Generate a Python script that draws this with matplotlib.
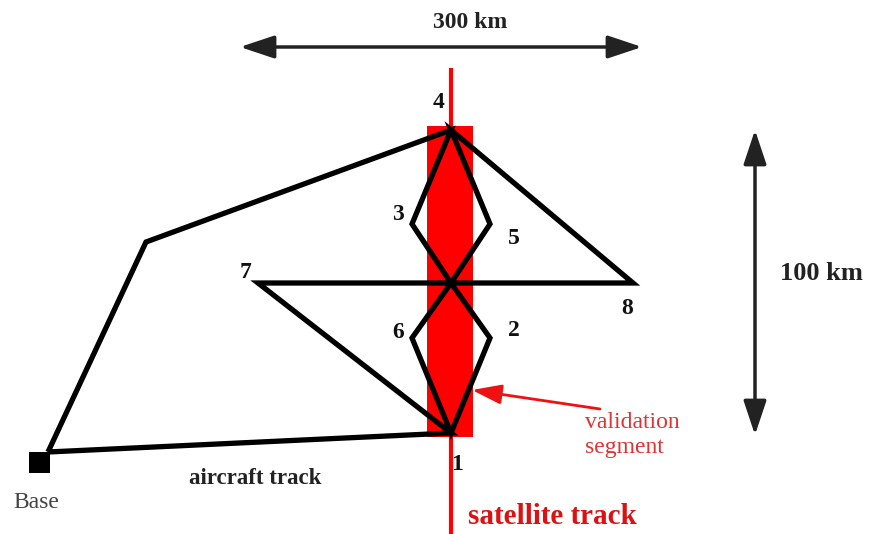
import matplotlib
matplotlib.use("Agg")
import matplotlib.pyplot as plt
from matplotlib.patches import Rectangle, FancyArrowPatch

# Waypoints (pixel-like diagram coordinates, y downward)
wp_names = ["Base", "A", "4", "3", "C", "2", "1", "6", "5", "8", "7"]
wp_x = [48, 146, 451, 412, 451, 490, 451, 412, 490, 633, 258]
wp_y = [452, 242, 130, 224, 283, 338, 433, 338, 224, 283, 283]
# flight order
route = ["Base", "A", "4", "3", "C", "2", "1", "6", "C", "5", "4", "8", "7", "1", "Base"]

# labels of waypoints
lab_text = ["4", "3", "5", "7", "8", "6", "2", "1"]
lab_x = [439, 398, 514, 246, 627, 398, 514, 457]
lab_y = [103, 215, 238, 272, 308, 332, 330, 465]

# satellite track & validation segment
sat_x = 451
sat_y = [68, 534]
seg_x = [427, 473]
seg_y = [126, 437]

fig = plt.figure(figsize=(8.69, 5.34), dpi=100)
ax = fig.add_axes([0, 0, 1, 1])
ax.set_xlim(0, 869)
ax.set_ylim(534, 0)
ax.axis("off")

serif = ["Liberation Serif", "DejaVu Serif"]

# validation segment rectangle
ax.add_patch(Rectangle((seg_x[0], seg_y[0]), seg_x[1] - seg_x[0], seg_y[1] - seg_y[0],
                       facecolor="#ff0000", edgecolor="none", zorder=1))
# satellite track
ax.plot([sat_x, sat_x], sat_y, color="#ff0000", lw=3, zorder=1, solid_capstyle="butt")

# aircraft track
pos = {n: (x, y) for n, x, y in zip(wp_names, wp_x, wp_y)}
rx = [pos[n][0] for n in route]
ry = [pos[n][1] for n in route]
ax.plot(rx, ry, color="black", lw=3.8, zorder=3, solid_joinstyle="miter", solid_capstyle="butt")

# base marker
ax.add_patch(Rectangle((29, 452), 21, 21, facecolor="black", edgecolor="none", zorder=4))

# waypoint labels
for t, x, y in zip(lab_text, lab_x, lab_y):
    ax.text(x, y, t, fontsize=17, fontweight="bold", family=serif, ha="center", va="center",
            color="#111111", zorder=5)

# scale arrows
h = FancyArrowPatch((240, 47), (642, 47), arrowstyle="<|-|>,head_length=21,head_width=7",
                    color="#222222", lw=2.5, mutation_scale=1, zorder=2, shrinkA=0, shrinkB=0)
ax.add_patch(h)
v = FancyArrowPatch((755, 130), (755, 435), arrowstyle="<|-|>,head_length=21,head_width=7",
                    color="#222222", lw=2.5, mutation_scale=1, zorder=2, shrinkA=0, shrinkB=0)
ax.add_patch(v)
ax.text(470, 22, "300 km", fontsize=17, fontweight="bold", family=serif, ha="center", va="center",
        color="#222222")
ax.text(821, 273, "100 km", fontsize=19, fontweight="bold", family=serif, ha="center", va="center",
        color="#222222")

# other text
ax.text(36, 503, "Base", fontsize=17, family=serif, ha="center", va="center", color="#444444")
ax.text(255, 479, "aircraft track", fontsize=16.5, fontweight="bold", family=serif, ha="center",
        va="center", color="#222222")
ax.text(552, 517, "satellite track", fontsize=21, fontweight="bold", family=serif, ha="center",
        va="center", color="#dd1111")
ax.text(585, 422, "validation", fontsize=17, family=serif, ha="left", va="center", color="#dd3333")
ax.text(585, 447, "segment", fontsize=17, family=serif, ha="left", va="center", color="#dd3333")

# red pointer arrow
ax.annotate("", xy=(472, 390), xytext=(600, 409),
            arrowprops=dict(arrowstyle="-|>,head_length=1.8,head_width=0.6", color="#ee1111", lw=2,
                            shrinkA=0, shrinkB=0),
            zorder=6)

fig.savefig("out.png", dpi=100)
